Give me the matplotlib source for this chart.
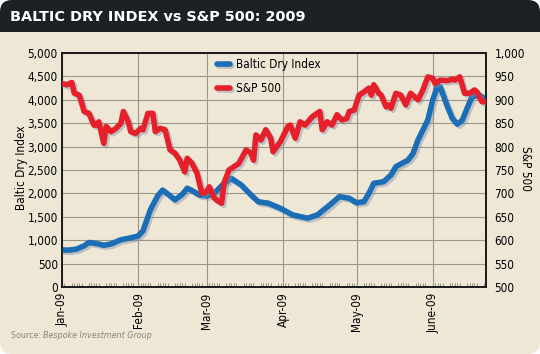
import pandas as pd
import numpy as np
import matplotlib
matplotlib.use("Agg")
import matplotlib.pyplot as plt
import matplotlib.dates as mdates
import matplotlib.patheffects as pe
from matplotlib.patches import FancyBboxPatch, Rectangle
from matplotlib.ticker import FuncFormatter

# Baltic Dry Index (left axis)
bdi_dates = ['2009-01-01', '2009-01-04', '2009-01-07', '2009-01-10', '2009-01-12', '2009-01-15',
             '2009-01-18', '2009-01-21', '2009-01-25', '2009-01-29', '2009-02-01', '2009-02-03',
             '2009-02-06', '2009-02-09', '2009-02-11', '2009-02-14', '2009-02-16', '2009-02-19',
             '2009-02-21', '2009-02-23', '2009-02-26', '2009-03-01', '2009-03-04', '2009-03-08',
             '2009-03-11', '2009-03-15', '2009-03-19', '2009-03-22', '2009-03-26', '2009-03-31',
             '2009-04-05', '2009-04-11', '2009-04-15', '2009-04-20', '2009-04-24', '2009-04-28',
             '2009-05-01', '2009-05-04', '2009-05-06', '2009-05-08', '2009-05-12', '2009-05-15',
             '2009-05-17', '2009-05-22', '2009-05-24', '2009-05-26', '2009-05-28', '2009-05-30',
             '2009-06-01', '2009-06-03', '2009-06-04', '2009-06-07', '2009-06-09', '2009-06-11',
             '2009-06-13', '2009-06-15', '2009-06-17', '2009-06-20', '2009-06-23']
bdi_values = [790, 790, 810, 880, 950, 930,
              890, 920, 1010, 1050, 1090, 1200,
              1650, 1950, 2070, 1950, 1860, 1980,
              2110, 2060, 1965, 1945, 2000, 2215,
              2320, 2180, 1965, 1820, 1790, 1680,
              1540, 1470, 1540, 1750, 1930, 1895,
              1800, 1823, 2002, 2215, 2250, 2393,
              2571, 2714, 2856, 3141, 3355, 3568,
              3996, 4300, 4280, 3853, 3600, 3480,
              3560, 3818, 4066, 4103, 3996]

# S&P 500 (right axis)
spx_dates = ['2009-01-01', '2009-01-03', '2009-01-05', '2009-01-06', '2009-01-08', '2009-01-09',
             '2009-01-10', '2009-01-12', '2009-01-14', '2009-01-15', '2009-01-16', '2009-01-18',
             '2009-01-19', '2009-01-21', '2009-01-23', '2009-01-25', '2009-01-26', '2009-01-28',
             '2009-01-29', '2009-01-31', '2009-02-02', '2009-02-03', '2009-02-05', '2009-02-07',
             '2009-02-08', '2009-02-10', '2009-02-12', '2009-02-14', '2009-02-16', '2009-02-18',
             '2009-02-20', '2009-02-21', '2009-02-23', '2009-02-25', '2009-02-27', '2009-03-01',
             '2009-03-02', '2009-03-04', '2009-03-05', '2009-03-07', '2009-03-08', '2009-03-10',
             '2009-03-12', '2009-03-14', '2009-03-17', '2009-03-19', '2009-03-20', '2009-03-21',
             '2009-03-23', '2009-03-25', '2009-03-27', '2009-03-28', '2009-03-31', '2009-04-03',
             '2009-04-04', '2009-04-06', '2009-04-08', '2009-04-10', '2009-04-13', '2009-04-16',
             '2009-04-17', '2009-04-19', '2009-04-21', '2009-04-23', '2009-04-25', '2009-04-27',
             '2009-04-28', '2009-04-30', '2009-05-02', '2009-05-04', '2009-05-06', '2009-05-07',
             '2009-05-08', '2009-05-10', '2009-05-11', '2009-05-13', '2009-05-14', '2009-05-15',
             '2009-05-17', '2009-05-19', '2009-05-21', '2009-05-23', '2009-05-26', '2009-05-28',
             '2009-05-30', '2009-06-01', '2009-06-02', '2009-06-04', '2009-06-07', '2009-06-09',
             '2009-06-10', '2009-06-12', '2009-06-14', '2009-06-16', '2009-06-18', '2009-06-19',
             '2009-06-21', '2009-06-23']
spx_values = [935, 932, 937, 914, 910, 893,
              875, 871, 846, 846, 853, 807,
              843, 832, 839, 850, 875, 853,
              832, 828, 839, 836, 871, 871,
              832, 839, 836, 793, 786, 771,
              746, 775, 764, 743, 700, 704,
              714, 690, 686, 679, 722, 750,
              757, 764, 793, 786, 771, 825,
              814, 836, 818, 789, 811, 843,
              846, 818, 853, 846, 864, 875,
              836, 853, 846, 868, 857, 860,
              875, 878, 910, 917, 925, 910,
              932, 914, 910, 885, 889, 882,
              914, 910, 889, 914, 900, 921,
              949, 946, 935, 942, 941, 944,
              942, 949, 914, 914, 921, 917,
              896, 896]

month_ticks = ['2009-01-01', '2009-02-01', '2009-03-01', '2009-04-01', '2009-05-01', '2009-06-01']
month_labels = ['Jan-09', 'Feb-09', 'Mar-09', 'Apr-09', 'May-09', 'June-09']

BG = '#EFE7D6'
HEADER = '#1B2125'
BLUE = '#1B6EB5'
RED = '#E5202A'
GRID = '#9C968A'
plt.rcParams['font.family'] = ['DejaVu Sans']
plt.rcParams['font.stretch'] = 'condensed'

fig = plt.figure(figsize=(5.4, 3.54), dpi=100, facecolor='white')

# rounded beige panel with dark header strip
panel = FancyBboxPatch((0.0, 0.0), 5.4, 3.54, boxstyle='round,pad=0,rounding_size=0.12',
                       transform=fig.dpi_scale_trans, fc=BG, ec='none', zorder=-10)
fig.patches.append(panel)
header = Rectangle((0, 3.22), 5.4, 0.32, transform=fig.dpi_scale_trans, fc=HEADER, ec='none', zorder=-9)
fig.patches.append(header)
header.set_clip_path(panel)

fig.text(0.019, 0.953, 'BALTIC DRY INDEX vs S&P 500: 2009', color='white', fontsize=10.4,
         fontweight='bold', fontstretch='normal', va='center', ha='left')

ax1 = fig.add_axes([62/540, 1-287/354, 424/540, 234/354])
ax1.set_facecolor(BG)
ax2 = ax1.twinx()

x_b = pd.to_datetime(bdi_dates)
x_s = pd.to_datetime(spx_dates)

shadow = [pe.SimpleLineShadow(offset=(1.5, -1.5), shadow_color='#7f8fa8', alpha=0.45), pe.Normal()]
l1, = ax1.plot(x_b, bdi_values, color=BLUE, lw=4, solid_capstyle='round', solid_joinstyle='round',
               label='Baltic Dry Index', path_effects=shadow, zorder=3)
l2, = ax2.plot(x_s, spx_values, color=RED, lw=4, solid_capstyle='round', solid_joinstyle='round',
               label='S&P 500', path_effects=shadow, zorder=3)

x0 = pd.Timestamp('2009-01-01')
x1 = x0 + pd.Timedelta(days=172.7)
ax1.set_xlim(x0, x1)
ax1.set_ylim(0, 5000)
ax2.set_ylim(500, 1000)
ax1.set_yticks(np.arange(0, 5001, 500))
ax2.set_yticks(np.arange(500, 1001, 50))
comma = FuncFormatter(lambda v, p: f'{int(v):,}')
ax1.yaxis.set_major_formatter(comma)
ax2.yaxis.set_major_formatter(comma)

ax1.set_xticks(pd.to_datetime(month_ticks))
ax1.set_xticklabels(month_labels, rotation=90, fontsize=8.5)
ax1.xaxis.set_minor_locator(mdates.WeekdayLocator(byweekday=(0, 1, 2, 3, 4)))
ax1.tick_params(axis='x', which='major', length=0, pad=4)
ax1.tick_params(axis='x', which='minor', direction='in', length=3, color='#8a857a', width=0.6)
ax1.tick_params(axis='y', length=0, labelsize=8.5, pad=3)
ax2.tick_params(axis='y', length=0, labelsize=8.5, pad=6)
ax2.tick_params(axis='x', length=0)

ax1.grid(True, which='major', color=GRID, lw=0.8)
ax1.set_axisbelow(True)
for ax in (ax1, ax2):
    for s in ax.spines.values():
        s.set_color('#1a1a1a')
        s.set_linewidth(1.2)

fig.text(22/540, 1-168/354, 'Baltic Dry Index', fontsize=8.5, rotation=90, ha='center', va='center')
fig.text(525/540, 1-168/354, 'S&P 500', fontsize=8.5, rotation=270, ha='center', va='center')

leg = ax2.legend(handles=[l1, l2], loc='upper left', bbox_to_anchor=(0.34, 1.025), frameon=False,
                 fontsize=8.5, handlelength=1.1, handletextpad=0.55, labelspacing=0.95)

t1 = fig.text(0.02, 0.053, 'Source: ', color='#8a857a', fontsize=6.4, ha='left', va='center')
fig.canvas.draw()
bb = t1.get_window_extent()
fig.text(bb.x1 / fig.bbox.width, 0.053, 'Bespoke Investment Group', color='#8a857a', fontsize=6.4,
         style='italic', ha='left', va='center')

fig.savefig('out.png', dpi=100, facecolor='white')
